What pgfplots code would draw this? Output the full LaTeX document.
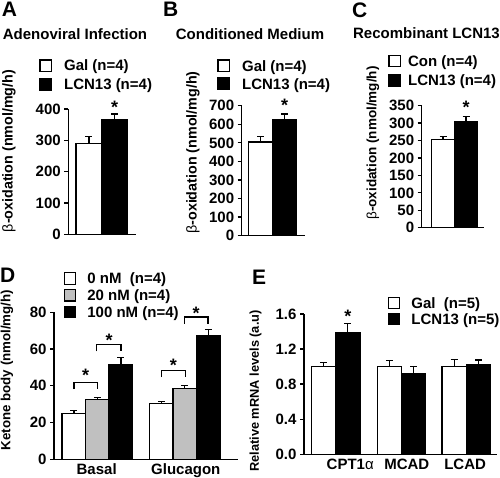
\documentclass[border=0pt]{standalone}
\usepackage{pgfplots}
\pgfplotsset{compat=1.18}
\usepackage{fontspec}
\setmainfont{Liberation Sans}
\newcommand\fs{\fontsize{15}{17}\selectfont\bfseries}
\newcommand\yfs[1]{\fontsize{#1}{17}\selectfont\bfseries}
\newcommand\sfs{\fontsize{18}{20}\selectfont\bfseries}
\newcommand\lfs{\fontsize{21}{24}\selectfont\bfseries}
\definecolor{midgray}{RGB}{192,192,192}
\tikzset{sig/.style={font=\sfs, yshift=-4pt}}
\pgfplotsset{
  panel/.style={
    scale only axis, anchor=south west, clip=false,
    axis x line=bottom, axis y line=left,
    axis line style={-, line width=1.3pt, black},
    tick align=outside, major tick length=4pt,
    ytick style={line width=1.3pt, black},
    x tick style={draw=none},
    xtick=\empty, ymin=0,
    /pgf/number format/assume math mode=true,
    yticklabel style={font=\fs},
    xticklabel style={font=\fs, yshift=3pt},
    legend cell align=left,
    legend image code/.code={\draw[##1, line width=1.2pt, draw=black] (0pt,-0.5pt) rectangle (11.5pt,11pt);},
  },
  leg/.style={legend style={draw=none, fill=none, inner sep=0pt, outer sep=0pt,
     nodes={inner sep=0pt, anchor=base west, text height=11pt, text depth=3pt, font=\fs}}},
  bars/.style={ybar, bar width=1, bar shift=0pt, draw=black, line width=1.3pt, forget plot,
    /pgfplots/error bars/y dir=plus, /pgfplots/error bars/y explicit,
    /pgfplots/error bars/error bar style={line width=1.3pt, black},
    /pgfplots/error bars/error mark options={rotate=90, mark size=3.5pt, line width=1.3pt, black}},
}
\begin{document}
\begin{tikzpicture}[x=1pt,y=1pt]
\path[use as bounding box] (0,0) rectangle (500,478);
% ---------- Panel A ----------
\node[font=\lfs, anchor=base west, inner sep=0pt] at (1.7,461.3) {A};
\node[font=\fs, anchor=base, inner sep=0pt] at (75,438) {Adenoviral Infection};
\node[font=\yfs{14.3}, rotate=90, inner sep=0pt] at (9,327) {{\mdseries β}-oxidation (nmol/mg/h)};
\begin{axis}[panel, leg, at={(68.3pt,243.7pt)}, width=67.7pt, height=125.3pt,
  xmin=-0.80, xmax=1.83, ymax=400, ytick={0,100,200,300,400},
  legend style={at={(axis description cs:-0.427,1.396)}, anchor=north west, row sep=4pt, column sep=12pt}]
\addlegendimage{fill=white}\addlegendentry{Gal (n=4)}
\addlegendimage{fill=black}\addlegendentry{LCN13 (n=4)}
\addplot[bars, fill=white] coordinates {(0,290) +- (0,22)};
\addplot[bars, fill=black] coordinates {(1,365) +- (0,19)};
\node[sig] at (axis cs:1,418) {*};
\end{axis}
% ---------- Panel B ----------
\node[font=\lfs, anchor=base west, inner sep=0pt] at (163,461.3) {B};
\node[font=\fs, anchor=base, inner sep=0pt] at (250,438) {Conditioned Medium};
\node[font=\yfs{14.3}, rotate=90, inner sep=0pt] at (193,325.5) {{\mdseries β}-oxidation (nmol/mg/h)};
\begin{axis}[panel, leg, at={(241.7pt,242.3pt)}, width=63.3pt, height=130pt,
  xmin=-0.78, xmax=1.84, ymax=700, ytick={0,100,200,300,400,500,600,700},
  legend style={at={(axis description cs:-0.384,1.356)}, anchor=north west, row sep=3.4pt, column sep=12pt}]
\addlegendimage{fill=white}\addlegendentry{Gal (n=4)}
\addlegendimage{fill=black}\addlegendentry{LCN13 (n=4)}
\addplot[bars, fill=white] coordinates {(0,505) +- (0,28)};
\addplot[bars, fill=black] coordinates {(1,623) +- (0,32)};
\node[sig] at (axis cs:1,721) {*};
\end{axis}
% ---------- Panel C ----------
\node[font=\lfs, anchor=base west, inner sep=0pt] at (352,460) {C};
\node[font=\fs, anchor=base, inner sep=0pt] at (426.5,439.7) {Recombinant LCN13};
\node[font=\yfs{13.5}, rotate=90, inner sep=0pt] at (373,335) {{\mdseries β}-oxidation (nmol/mg/h)};
\begin{axis}[panel, leg, at={(421.7pt,250.3pt)}, width=62.6pt, height=122pt,
  xmin=-0.93, xmax=1.79, ymax=350, ytick={0,50,100,150,200,250,300,350},
  legend style={at={(axis description cs:-0.532,1.419)}, anchor=north west, row sep=5.2pt, column sep=7pt}]
\addlegendimage{fill=white}\addlegendentry{Con (n=4)}
\addlegendimage{fill=black}\addlegendentry{LCN13 (n=4)}
\addplot[bars, fill=white] coordinates {(0,253) +- (0,9)};
\addplot[bars, fill=black] coordinates {(1,303) +- (0,16)};
\node[sig] at (axis cs:1,358) {*};
\end{axis}
% ---------- Panel D ----------
\node[font=\lfs, anchor=base west, inner sep=0pt] at (0,195) {D};
\node[font=\yfs{13.3}, rotate=90, inner sep=0pt] at (7,108) {Ketone body (nmol/mg/h)};
\begin{axis}[panel, leg, at={(54pt,18.7pt)}, width=184.4pt, height=147pt,
  xmin=-0.845, xmax=7.0, ymax=80, ytick={0,20,40,60,80},
  xtick={0.97,4.76}, xticklabels={Basal,Glucagon},
  legend style={at={(axis description cs:0.0526,1.274)}, anchor=north west, row sep=2.2pt, column sep=11pt}]
\addlegendimage{fill=white}\addlegendentry{0 nM~~(n=4)}
\addlegendimage{fill=midgray}\addlegendentry{20 nM (n=4)}
\addlegendimage{fill=black}\addlegendentry{100 nM (n=4)}
\addplot[bars, fill=white] coordinates {(0,25.1) +- (0,1.6) (3.72,30.5) +- (0,1.0)};
\addplot[bars, fill=midgray] coordinates {(1,32.4) +- (0,1.2) (4.72,38.4) +- (0,1.6)};
\addplot[bars, fill=black] coordinates {(2,51.5) +- (0,3.8) (5.72,67.3) +- (0,3.2)};
\draw[line width=1.3pt] (axis cs:0,38.2) -- (axis cs:0,41.8) -- (axis cs:1,41.8) -- (axis cs:1,38.2);
\draw[line width=1.3pt] (axis cs:0.97,58.7) -- (axis cs:0.97,62.4) -- (axis cs:2,62.4) -- (axis cs:2,58.7);
\draw[line width=1.3pt] (axis cs:3.72,44.7) -- (axis cs:3.72,48.4) -- (axis cs:4.74,48.4) -- (axis cs:4.74,44.7);
\draw[line width=1.3pt] (axis cs:4.7,73.8) -- (axis cs:4.7,77.5) -- (axis cs:5.7,77.5) -- (axis cs:5.7,73.8);
\node[sig] at (axis cs:0.5,47.8) {*};
\node[sig] at (axis cs:1.5,66.9) {*};
\node[sig] at (axis cs:4.23,53.3) {*};
\node[sig] at (axis cs:5.2,81.8) {*};
\end{axis}
% ---------- Panel E ----------
\node[font=\lfs, anchor=base west, inner sep=0pt] at (252,193) {E};
\node[font=\yfs{12.8}, rotate=90, inner sep=0pt] at (255.5,87) {Relative mRNA levels (a.u)};
\begin{axis}[panel, leg, at={(304pt,23.7pt)}, width=193pt, height=140.3pt,
  xmin=-0.80, xmax=7.14, ymax=1.6, ytick={0,0.4,0.8,1.2,1.6},
  yticklabel style={/pgf/number format/.cd, fixed, fixed zerofill, precision=1},
  xtick={1.1,3.43,5.83}, xticklabels={CPT1{\mdseries α},MCAD,LCAD},
  legend style={at={(axis description cs:0.434,1.1233)}, anchor=north west, row sep=1.4pt, column sep=11pt}]
\addlegendimage{fill=white}\addlegendentry{Gal~~(n=5)}
\addlegendimage{fill=black}\addlegendentry{LCN13 (n=5)}
\addplot[bars, fill=white] coordinates {(0,1.0) +- (0,0.05) (2.71,1.0) +- (0,0.07) (5.38,1.0) +- (0,0.08)};
\addplot[bars, fill=black] coordinates {(1,1.39) +- (0,0.10) (3.71,0.92) +- (0,0.08) (6.38,1.017) +- (0,0.06)};
\node[sig] at (axis cs:1,1.62) {*};
\end{axis}
\end{tikzpicture}
\end{document}
